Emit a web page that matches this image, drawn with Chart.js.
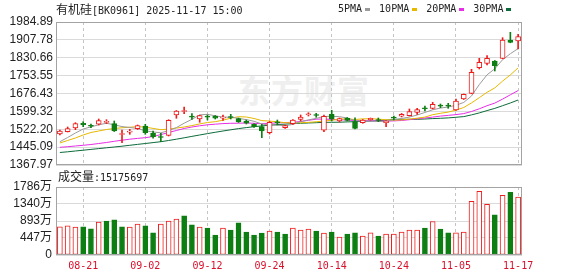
<!DOCTYPE html>
<html>
<head>
<meta charset="utf-8">
<script src="https://cdn.jsdelivr.net/npm/chart.js@4.4.1/dist/chart.umd.min.js"></script>
<style>
  html,body{margin:0;padding:0;background:#fff;}
  #wrap{position:relative;width:578px;height:276px;overflow:hidden;}
  canvas{position:absolute;left:0;top:0;}
  .txt{position:absolute;white-space:nowrap;font-family:"DejaVu Sans Mono",monospace;font-size:10px;color:#222;line-height:14px;}
  .cjk{font-family:"Noto Sans CJK SC",sans-serif;font-size:12px;}
  .dash{display:inline-block;width:5px;height:3px;margin:0 9px 0 3px;vertical-align:middle;}
  .wm{position:absolute;left:238px;top:66px;font:bold 32px "Noto Sans CJK SC",sans-serif;color:#efefef;letter-spacing:1px;}
</style>
</head>
<body>
<div id="wrap">
  <div class="wm">东方财富</div>
  <canvas id="kline" width="578" height="276"></canvas>
  <canvas id="vol" width="578" height="276"></canvas>
  <div class="txt" style="left:56px;top:2px;"><span class="cjk">有机硅</span>[BK0961] 2025-11-17 15:00</div>
  <div class="txt" style="left:338px;top:2px;">5PMA<span class="dash" style="background:#9a9a9a"></span>10PMA<span class="dash" style="background:#e6b800"></span>20PMA<span class="dash" style="background:#e62ee6"></span>30PMA<span class="dash" style="background:#0b6b3a"></span></div>
  <div class="txt" style="left:58px;top:169px;"><span class="cjk">成交量</span>:15175697</div>
</div>
<script>
(() => {
  'use strict';

  // === datos ===
  const dates = [
    '08-18','08-19','08-20','08-21','08-22','08-25','08-26','08-27','08-28','08-29',
    '09-01','09-02','09-03','09-04','09-05','09-08','09-09','09-10','09-11','09-12',
    '09-15','09-16','09-17','09-18','09-19','09-22','09-23','09-24','09-25','09-26',
    '09-29','09-30','10-09','10-10','10-13','10-14','10-15','10-16','10-17','10-20',
    '10-21','10-22','10-23','10-24','10-27','10-28','10-29','10-30','10-31','11-03',
    '11-04','11-05','11-06','11-07','11-10','11-11','11-12','11-13','11-14','11-17'
  ];
  const tickDates  = ['08-21','09-02','09-12','09-24','10-14','10-24','11-05','11-17'];
  const priceTicks = [1367.97,1445.09,1522.20,1599.32,1676.43,1753.55,1830.66,1907.78,1984.89];
  const volTicks   = [0,447,893,1340,1786];

  const openP = [
    1501.7,1511.6,1527.6,1547.9,1539.3,1543.6,1552.2,1546.2,1499.6,1509.5,
    1524.6,1536.2,1504.8,1490.9,1496.1,1583.7,1598.8,1578.5,1566.4,1578.5,
    1578.1,1569.9,1577.2,1567.7,1557.8,1543.6,1533.2,1507.3,1554.3,1528.9,
    1546.2,1565.1,1584.6,1585.8,1517.7,1586.7,1557.8,1569.5,1554.8,1550.5,
    1563.4,1564.3,1550.5,1574.2,1578.1,1580.7,1595.3,1614.8,1612.6,1626.0,
    1626.0,1605.3,1652.7,1677.3,1787.7,1806.7,1816.6,1828.3,1907.2,1902.9
  ];
  const highP = [
    1519.0,1531.9,1550.5,1554.8,1544.9,1566.4,1563.4,1557.8,1519.0,1522.0,
    1540.6,1543.6,1514.7,1504.8,1563.4,1603.1,1618.2,1589.3,1582.8,1583.7,
    1581.5,1583.7,1586.7,1570.7,1562.1,1547.0,1543.6,1555.6,1562.1,1540.6,
    1564.3,1583.7,1593.6,1591.0,1583.7,1604.0,1570.7,1572.9,1572.0,1564.3,
    1570.7,1570.7,1559.9,1579.4,1590.2,1609.6,1612.6,1622.5,1638.5,1631.1,
    1634.2,1652.7,1674.3,1780.8,1828.3,1839.5,1818.8,1917.2,1940.5,1931.8
  ];
  const lowP = [
    1497.4,1510.3,1520.3,1533.2,1528.9,1540.6,1546.2,1512.5,1464.2,1500.4,
    1521.1,1500.4,1483.2,1468.5,1493.1,1569.5,1589.3,1565.1,1552.2,1562.1,
    1566.4,1560.8,1566.4,1551.3,1544.9,1529.8,1485.8,1501.7,1540.6,1525.5,
    1542.7,1557.8,1579.4,1573.8,1511.6,1557.8,1553.5,1557.8,1523.3,1547.9,
    1560.8,1554.8,1533.2,1562.1,1575.1,1579.4,1586.7,1601.0,1609.6,1615.2,
    1612.6,1603.1,1650.6,1675.2,1782.1,1799.4,1773.5,1826.1,1895.2,1868.4
  ];
  const closeP = [
    1514.7,1524.6,1546.2,1541.9,1535.0,1559.1,1556.5,1514.7,1503.9,1513.8,
    1537.5,1507.3,1490.1,1486.6,1560.8,1601.0,1603.1,1574.2,1580.7,1574.2,
    1569.5,1574.2,1572.9,1554.8,1547.9,1533.2,1514.7,1552.2,1550.0,1537.5,
    1562.1,1575.1,1588.9,1581.5,1578.1,1566.4,1567.7,1560.8,1526.3,1562.1,
    1569.5,1559.9,1557.8,1569.9,1586.7,1597.9,1606.6,1610.4,1629.9,1621.7,
    1621.7,1644.1,1673.0,1767.9,1811.0,1828.3,1796.4,1907.2,1897.3,1921.5
  ];
  const ma5 = [
    1468.5,1486.6,1506.0,1523.3,1532.4,1541.4,1547.9,1541.4,1533.6,1529.8,
    1525.5,1515.5,1510.4,1506.9,1516.4,1529.3,1548.3,1565.1,1584.1,1586.7,
    1580.2,1574.6,1574.2,1569.0,1563.8,1556.5,1544.9,1540.5,1539.7,1537.5,
    1543.1,1555.2,1562.6,1569.0,1577.2,1578.1,1576.4,1570.7,1560.0,1556.5,
    1557.4,1555.6,1555.2,1563.8,1568.6,1574.6,1583.7,1594.5,1606.1,1613.5,
    1618.2,1625.5,1638.0,1665.7,1715.0,1757.0,1783.0,1822.3,1848.1,1870.1
  ];
  const ma10 = [
    1462.9,1473.7,1484.5,1497.4,1508.2,1514.7,1521.1,1525.5,1528.5,1531.1,
    1533.2,1531.5,1525.9,1520.3,1522.9,1527.2,1531.9,1538.0,1545.3,1551.3,
    1554.8,1561.3,1569.9,1576.4,1575.1,1568.6,1559.5,1557.4,1554.4,1550.5,
    1550.0,1550.0,1551.8,1554.4,1557.4,1560.8,1566.0,1566.9,1564.3,1566.9,
    1567.7,1566.0,1563.0,1561.7,1562.6,1566.0,1569.9,1574.6,1585.0,1591.0,
    1596.2,1604.8,1616.0,1635.9,1658.3,1681.6,1700.6,1729.9,1756.7,1786.9
  ];
  const ma20 = [
    1444.3,1446.9,1450.0,1453.0,1456.4,1460.7,1465.1,1470.2,1475.0,1479.3,
    1482.7,1485.8,1490.9,1499.1,1508.2,1516.8,1525.5,1531.9,1537.1,1541.4,
    1544.0,1546.6,1547.9,1548.3,1549.2,1547.9,1545.7,1547.5,1550.0,1550.9,
    1552.2,1555.6,1560.8,1565.6,1566.4,1564.7,1563.0,1562.1,1559.5,1558.7,
    1558.7,1558.2,1557.4,1558.2,1560.0,1563.4,1567.7,1570.7,1574.6,1578.9,
    1582.0,1585.4,1589.7,1598.8,1610.4,1623.8,1635.0,1652.3,1670.8,1689.0
  ];
  const ma30 = [
    1421.9,1424.9,1428.4,1431.8,1435.3,1438.7,1442.2,1445.6,1449.1,1453.0,
    1456.9,1460.7,1464.6,1468.5,1473.7,1479.3,1485.3,1491.4,1497.4,1503.4,
    1509.1,1514.7,1519.8,1525.0,1529.3,1533.2,1536.7,1539.7,1542.3,1544.4,
    1546.2,1547.9,1549.2,1550.5,1551.8,1552.2,1552.6,1553.9,1554.8,1556.5,
    1557.4,1559.1,1561.3,1564.3,1565.1,1565.1,1565.1,1566.4,1568.2,1569.5,
    1571.2,1573.8,1576.8,1584.1,1592.7,1602.7,1612.2,1623.8,1635.5,1648.4
  ];
  // volumen en 万
  const volume = [
    740,766,732,740,688,863,889,923,740,732,
    811,766,583,811,889,941,1028,792,732,706,
    523,706,654,845,601,523,575,628,601,549,
    706,654,680,628,575,601,471,549,583,497,
    583,497,549,549,601,654,654,706,881,680,
    583,583,601,1412,1674,1334,1054,1569,1647,1518
  ];
  const volUp = [
    1,1,1,0,0,1,0,0,0,1, 1,0,0,1,1,1,0,0,1,0,
    0,1,0,0,0,0,0,1,0,0, 1,1,1,0,1,0,1,0,0,1,
    1,0,1,1,1,1,1,0,1,0, 0,1,1,1,1,1,0,1,0,1
  ];

  // === estilos ===
  const RED = '#ee1c1c', GREEN = '#0d7e12';
  const up = dates.map((d,i) => closeP[i] >= openP[i]);
  const TICK_FONT = {family:'"Liberation Sans","Noto Sans CJK SC",sans-serif', size:12};
  const vGrid = ctx => tickDates.includes(dates[ctx.index]) ? '#c4c4c4' : 'rgba(0,0,0,0)';

  const framePlugin = {
    id: 'frame',
    afterDraw(chart){
      const {ctx, chartArea:a} = chart;
      ctx.save();
      ctx.strokeStyle = '#a3a3a3';
      ctx.lineWidth = 1;
      ctx.strokeRect(Math.round(a.left)+0.5, Math.round(a.top)+0.5,
                     Math.round(a.right-a.left)-1, Math.round(a.bottom-a.top)-1);
      ctx.restore();
    }
  };

  const maLine = (data, color) => ({
    type:'line', data, borderColor:color, borderWidth:1, pointRadius:0, order:5
  });

  // === velas ===
  new Chart(document.getElementById('kline'), {
    type: 'bar',
    data: {
      labels: dates,
      datasets: [
        maLine(ma5,  '#9a9a9a'),
        maLine(ma10, '#e6b800'),
        maLine(ma20, '#e62ee6'),
        maLine(ma30, '#0b6b3a'),
        {
          data: dates.map((d,i) => [lowP[i], highP[i]]),
          backgroundColor: up.map(u => u ? RED : GREEN),
          barThickness: 1, grouped: false, order: 2
        },
        {
          data: dates.map((d,i) => [openP[i], closeP[i]]),
          backgroundColor: up.map(u => u ? '#fff' : GREEN),
          borderColor: up.map(u => u ? RED : GREEN),
          borderWidth: 1, borderSkipped: false,
          barThickness: 5, grouped: false, order: 1
        }
      ]
    },
    options: {
      responsive: false, animation: false,
      layout: {padding: {left:0, right:56, top:22, bottom:111}},
      plugins: {legend:{display:false}, tooltip:{enabled:false}},
      scales: {
        x: {
          offset: true,
          grid: {offset:false, drawTicks:false, color:vGrid},
          border: {display:false, dash:[3,3]},
          ticks: {display:false, autoSkip:false},
          afterFit: s => { s.height = 0; }
        },
        y: {
          min: 1367.97, max: 1984.89,
          afterBuildTicks: s => { s.ticks = priceTicks.map(v => ({value:v})); },
          afterFit: s => { s.width = 56; },
          grid: {color:'#dadada', drawTicks:false},
          border: {display:false},
          ticks: {autoSkip:false, padding:3, color:'#222', font:TICK_FONT, callback: v => Number(v).toFixed(2)}
        }
      }
    },
    plugins: [framePlugin]
  });

  // === volumen ===
  new Chart(document.getElementById('vol'), {
    type: 'bar',
    data: {
      labels: dates,
      datasets: [{
        data: volume,
        backgroundColor: volUp.map(u => u ? '#fff' : GREEN),
        borderColor: volUp.map(u => u ? RED : GREEN),
        borderWidth: 1, borderSkipped: false, barThickness: 5
      }]
    },
    options: {
      responsive: false, animation: false,
      layout: {padding: {left:0, right:56, top:187, bottom:0}},
      plugins: {legend:{display:false}, tooltip:{enabled:false}},
      scales: {
        x: {
          offset: true,
          grid: {offset:false, drawTicks:false, color:vGrid},
          border: {display:false, dash:[3,3]},
          ticks: {
            autoSkip:false, maxRotation:0, minRotation:0, padding:5,
            color:'#d9102c', font:{family:'"DejaVu Sans Mono",monospace', size:10},
            callback: (v,i) => tickDates.includes(dates[i]) ? dates[i] : ''
          },
          afterFit: s => { s.height = 21; }
        },
        y: {
          min: 0, max: 1786,
          afterBuildTicks: s => { s.ticks = volTicks.map(v => ({value:v})); },
          afterFit: s => { s.width = 56; },
          grid: {color:'#dadada', drawTicks:false},
          border: {display:false},
          ticks: {autoSkip:false, padding:4, color:'#222', font:TICK_FONT, callback: v => v === 0 ? '0' : v + '万'}
        }
      }
    },
    plugins: [framePlugin]
  });
})();
</script>
</body>
</html>
